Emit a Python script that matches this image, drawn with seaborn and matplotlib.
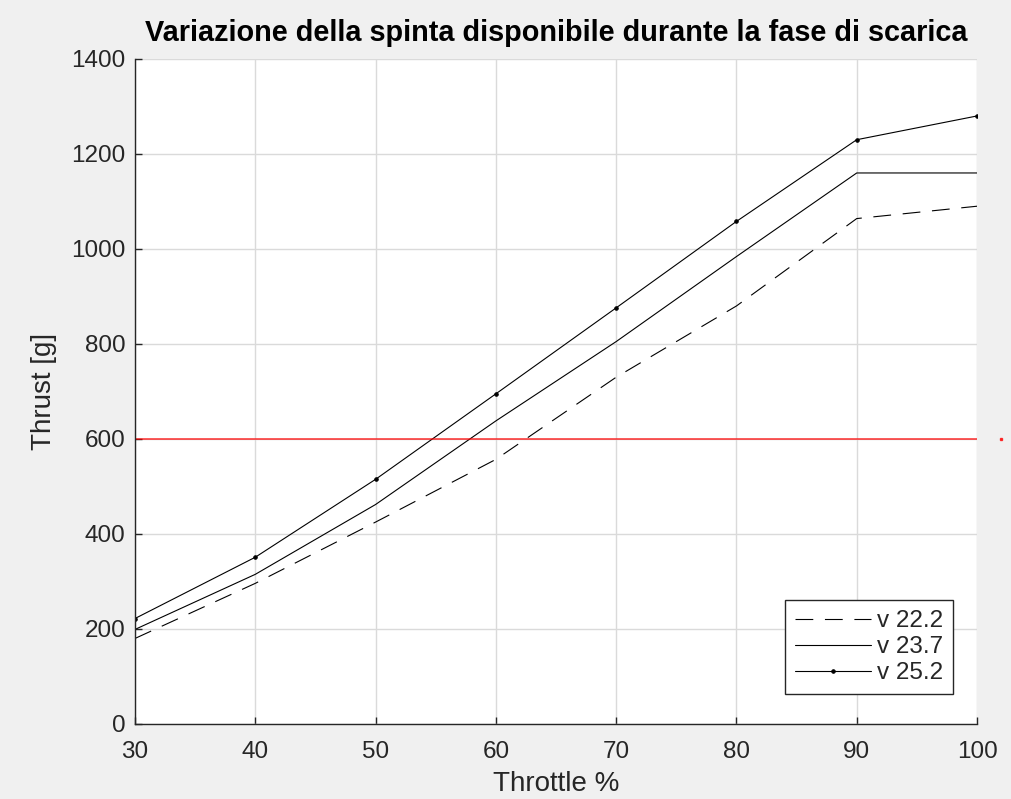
import numpy as np
import pandas as pd
import matplotlib
matplotlib.use("Agg")
import matplotlib.pyplot as plt
import seaborn as sns

# dati
throttle = [30, 40, 50, 60, 70, 80, 90, 100]
v222 = [180, 296, 425, 557, 730, 880, 1064, 1090]
v237 = [199, 315, 462, 638, 805, 984, 1160, 1160]
v252 = [222, 351, 515, 695, 876, 1058, 1230, 1280]
soglia_x = [30, 100]
soglia_y = [600, 600]
punto_x = [102]
punto_y = [600]

df = pd.DataFrame({"Throttle": throttle, "v22.2": v222, "v23.7": v237, "v25.2": v252})

sns.set_theme(style="whitegrid")
plt.rcParams['font.family'] = ['Liberation Sans', 'DejaVu Sans']

fig = plt.figure(figsize=(10.11, 7.99), dpi=100, facecolor="#f0f0f0")
ax = fig.add_axes([0.1335, 0.0939, 0.8329, 0.8323])
ax.set_facecolor("white")

lw = 0.8
sns.lineplot(data=df, x="Throttle", y="v22.2", ax=ax, color="black", lw=lw,
             linestyle=(0, (16, 10.5)), label="v 22.2")
sns.lineplot(data=df, x="Throttle", y="v23.7", ax=ax, color="black", lw=lw,
             label="v 23.7")
sns.lineplot(data=df, x="Throttle", y="v25.2", ax=ax, color="black", lw=lw,
             marker=".", markersize=5, markeredgecolor="black", label="v 25.2")
ax.plot(soglia_x, soglia_y, color="#ff0000", lw=1.2, alpha=0.75)
ax.plot(punto_x, punto_y, color="#ff0000", marker="s", markersize=1.8, ls="none",
        clip_on=False, alpha=0.75)

ax.set_xlim(30, 100)
ax.set_ylim(0, 1400)
ax.set_xticks(np.arange(30, 101, 10))
ax.set_yticks(np.arange(0, 1401, 200))
ax.grid(True, color="#dadada", lw=1.0)

for s in ["top", "right"]:
    ax.spines[s].set_visible(False)
for s in ["left", "bottom"]:
    ax.spines[s].set_color("#262626")
    ax.spines[s].set_linewidth(1.0)

ax.tick_params(direction="in", length=5, width=1, colors="#262626",
               labelsize=17.5, left=True, bottom=True)
ax.tick_params(axis="y", pad=7)
ax.tick_params(axis="x", pad=12)

ax.set_xlabel("Throttle %", fontsize=20, color="#262626", labelpad=6)
ax.set_ylabel("Thrust [g]", fontsize=20, color="#262626", labelpad=10)
ax.set_title("Variazione della spinta disponibile durante la fase di scarica",
             fontsize=20.8, fontweight="bold", color="black", pad=13)

leg = ax.legend(loc="lower right", bbox_to_anchor=(0.9715, 0.045),
                fontsize=17.5, frameon=True, fancybox=False,
                framealpha=1, edgecolor="#262626", borderaxespad=0,
                handlelength=3.15, handletextpad=0.25, labelspacing=0.17,
                borderpad=0.4)
leg.get_frame().set_linewidth(1.0)
for t in leg.get_texts():
    t.set_color("#262626")

fig.savefig("out.png", dpi=100, facecolor=fig.get_facecolor())
